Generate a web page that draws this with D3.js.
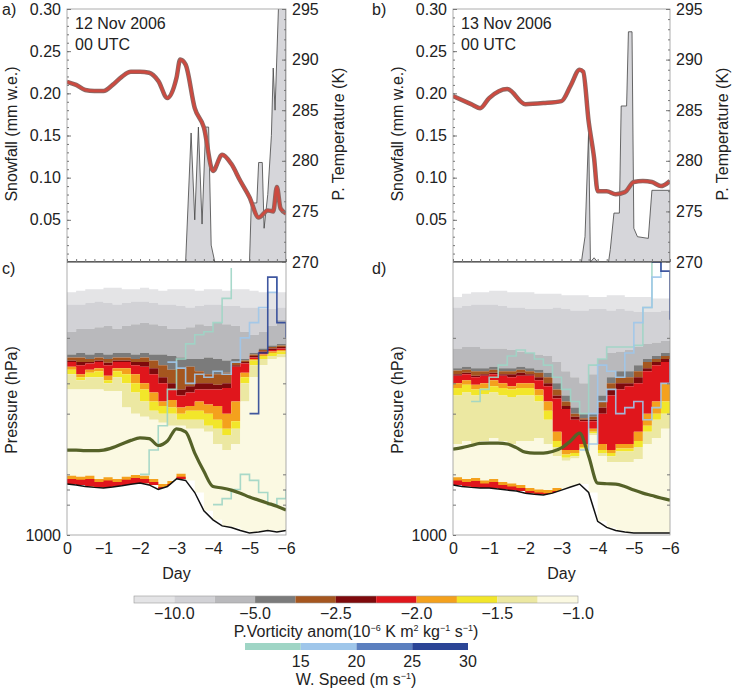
<!DOCTYPE html>
<html><head><meta charset="utf-8">
<script src="https://cdn.jsdelivr.net/npm/d3@7"></script>
<style>body{margin:0;background:#fff}text{font-family:"Liberation Sans",Arial,sans-serif}</style>
</head><body><svg id="fig" width="736" height="689"></svg>
<script>
// time axis for the PV cross-sections (0 to -6 days, 6-hourly)
const days = d3.range(25).map(i => -i * 0.25);

// ---- panel a / c : 12 Nov 2006 ----
const ptDaysA = [0,-0.25,-0.5,-0.75,-1,-1.25,-1.5,-1.75,-2,-2.25,-2.5,-2.75,-3,-3.1,-3.25,-3.5,-3.75,-4,-4.25,-4.5,-4.75,-5,-5.25,-5.5,-5.65,-5.75,-5.85,-6];
const ptA = [287.8,287.5,287.0,286.9,286.9,287.5,288.3,288.8,288.8,288.7,287.9,286.2,288.2,290.0,289.5,285.2,283.3,279.0,280.6,279.7,278.0,276.4,274.4,275.1,275.0,277.4,275.3,274.8];
const snowDaysA = [0,-3.25,-3.4,-3.5,-3.6,-3.7,-3.8,-3.88,-3.95,-4.05,-5.0,-5.05,-5.2,-5.25,-5.35,-5.4,-5.5,-5.6,-5.65,-5.7,-5.8,-6];
const snowA = [0,0,0.153,0.05,0.16,0.045,0.16,0.16,0.02,0,0,0.07,0.07,0.118,0.118,0.04,0.08,0.15,0.23,0.18,0.31,0.31];

const pvA = [
  [200,195,190,190,185,185,190,190,185,190,195,190,190,190,195,190,190,195,190,190,195,200,200,200,200],
  [240,240,235,230,235,240,235,230,230,235,240,240,245,250,245,240,240,245,245,250,250,255,255,250,250],
  [330,320,320,315,310,320,310,305,300,305,310,320,320,315,305,310,300,305,310,330,340,330,310,290,285],
  [405,400,405,400,405,400,400,405,400,405,405,410,415,420,420,415,420,425,420,420,400,385,375,370,360],
  [415,415,420,415,420,415,415,420,415,425,440,455,450,445,460,470,470,465,430,425,405,390,380,375,365],
  [425,430,430,425,432,425,425,430,430,450,480,500,520,510,500,500,505,500,440,430,410,395,385,380,370],
  [430,440,435,430,440,430,430,440,445,470,500,520,540,530,520,520,520,515,445,435,415,400,390,385,375],
  [445,470,455,450,475,450,450,470,500,530,560,555,580,575,560,570,575,600,560,465,420,405,395,390,380],
  [455,480,465,460,490,460,470,500,520,560,575,580,600,590,590,600,620,650,625,480,425,410,400,395,385],
  [470,490,480,480,500,480,500,530,560,590,600,600,620,620,620,640,650,670,650,500,440,420,410,405,395],
  [520,520,520,520,525,525,580,600,610,620,630,640,640,650,650,660,700,720,700,560,480,440,420,415,405]
];
const surfA = [832,835,840,843,845,842,838,833,829,835,850,840,815,820,860,920,950,970,975,985,993,990,985,990,985];
const nearSfcA = [815,818,815,825,820,825,818,812,815,825,842,832,808,815,null,null,null,null,null,null,null,null,null,null,null];
const greenA = [720,720,722,722,720,712,700,688,680,682,705,690,650,660,730,790,840,845,852,862,875,885,895,905,918];
const windA = [
  {c:0, v:[null,null,null,null,null,null,null,null,800,720,640,520,420,370,340,330,300,220,120,null,null,null,null,null,null]},
  {c:1, v:[null,null,null,null,null,null,null,null,null,null,null,430,450,500,470,480,460,470,430,350,300,250,200,150,null]},
  {c:0, v:[null,null,null,null,null,null,null,null,null,null,null,null,null,null,null,null,900,880,850,800,820,860,900,880,850]},
  {c:3, v:[null,null,null,null,null,null,null,null,null,null,null,null,null,null,null,null,null,null,null,null,600,400,150,300,350]}
];

// ---- panel b / d : 13 Nov 2006 ----
const ptDaysB = [0,-0.5,-0.75,-1,-1.5,-2,-2.5,-3,-3.25,-3.5,-3.6,-3.75,-3.9,-4,-4.25,-4.5,-4.75,-5,-5.25,-5.5,-5.75,-6];
const ptB = [286.4,285.6,285.2,286.2,287.1,285.6,285.7,285.9,287.4,289.0,288.8,283.9,280.3,277.0,277.0,276.7,276.9,277.9,278.0,277.9,277.5,278.0];
const snowDaysB = [0,-3.55,-3.65,-3.75,-3.8,-3.9,-4.0,-4.3,-4.35,-4.45,-4.6,-4.65,-4.8,-4.85,-4.95,-5.0,-5.1,-5.4,-5.5,-6];
const snowB = [0,0,0.03,0.155,0,0.005,0,0,0.015,0.058,0.058,0.185,0.185,0.273,0.273,0.04,0.03,0.028,0.085,0.085];

const pvB = [
  [215,205,200,200,195,195,200,200,200,205,205,205,210,210,210,215,215,210,210,215,215,215,220,220,220],
  [250,245,240,240,240,245,250,250,255,255,255,250,255,260,260,255,255,260,255,260,265,265,265,260,260],
  [385,380,380,385,385,385,390,395,400,405,410,430,460,480,500,470,420,400,395,390,380,370,365,360,355],
  [450,445,450,450,445,450,450,445,450,455,465,500,540,580,600,600,540,480,460,460,440,420,410,400,395],
  [458,455,460,460,455,460,460,455,460,465,480,520,560,600,615,610,560,500,480,480,460,430,420,410,405],
  [470,465,475,470,465,470,470,465,470,480,500,540,575,610,620,620,580,520,500,500,480,450,430,420,415],
  [475,470,480,475,470,475,480,475,475,490,510,550,585,620,625,625,600,540,520,510,500,460,440,430,420],
  [500,490,505,500,490,500,510,500,500,520,560,660,720,720,700,650,700,720,700,700,660,600,560,500,560],
  [515,505,520,515,510,515,520,515,515,540,590,690,735,730,710,660,720,730,715,715,690,640,600,560,620],
  [540,530,540,535,530,540,545,540,540,560,620,710,745,740,715,665,730,740,725,725,710,660,620,600,650],
  [700,690,700,690,680,690,700,690,690,680,700,740,755,748,720,670,740,760,760,760,750,700,680,650,680]
];
const surfB = [835,840,843,845,845,848,852,855,862,866,868,862,852,842,832,860,955,975,985,990,993,993,993,993,993];
const nearSfcB = [820,825,822,830,825,835,840,845,855,860,862,855,845,null,null,null,null,null,null,null,null,null,null,null,null];
const greenB = [717,712,705,698,697,697,700,712,727,730,730,725,713,690,664,740,829,831,832,840,852,862,870,878,885];
const windB = [
  {c:0, v:[null,null,560,520,480,440,410,390,400,420,440,480,520,560,600,440,420,380,380,380,375,250,100,null,null]},
  {c:1, v:[null,null,null,null,null,null,null,null,null,null,null,null,null,null,720,600,440,460,480,400,300,250,150,100,null]},
  {c:1, v:[null,null,null,null,null,null,null,null,null,null,null,null,null,null,null,700,560,520,600,580,560,620,580,500,420]},
  {c:3, v:[null,null,null,null,null,null,null,null,null,null,null,null,null,null,null,null,null,null,null,null,null,null,100,130,290]}
];

// ---- colour bars ----
const pvColors = ["#e4e4e6","#d2d2d6","#b9b9bc","#7b7b7b","#a5561f","#7e0a0c","#e0161c","#f4a11d","#f2e62a","#ece8a2","#fbf9e2"];
const pvTicks = [{i:1,t:"\u221210.0"},{i:3,t:"\u22125.0"},{i:5,t:"\u22122.5"},{i:7,t:"\u22122.0"},{i:9,t:"\u22121.5"},{i:11,t:"\u22121.0"}];
const windColors = ["#9fd5c5","#9fc6ea","#5b7fbf","#2b4596"];
const windTicks = ["15","20","25","30"];

const svg = d3.select("#fig");
const FS = 16;
const TOP = 9;

function drawPanel(o) {
  const x = d3.scaleLinear().domain([0, -6]).range([o.x0, o.x1]);
  const ys = d3.scaleLinear().domain([0, 0.30]).range([262, TOP]);
  const yt = d3.scaleLinear().domain([270, 295]).range([262, TOP]);
  const yp = d3.scaleLinear().domain([100, 1000]).range([262, 535]);
  const clipId = "clip" + o.tag;
  svg.append("clipPath").attr("id", clipId).append("rect")
    .attr("x", o.x0).attr("y", 262).attr("width", o.x1 - o.x0).attr("height", 273);
  const clipT = "clipT" + o.tag;
  svg.append("clipPath").attr("id", clipT).append("rect")
    .attr("x", o.x0).attr("y", TOP).attr("width", o.x1 - o.x0).attr("height", 262 - TOP);

  // --- top: snowfall + potential temperature
  const top = svg.append("g").attr("clip-path", `url(#${clipT})`);
  top.append("path").datum(d3.zip(o.snowDays, o.snow))
    .attr("d", d3.area().x(d => x(d[0])).y0(262).y1(d => ys(d[1])))
    .attr("fill", "#d6d6da").attr("stroke", "#444").attr("stroke-width", 0.8);
  const ptLine = d3.line().x(d => x(d[0])).y(d => yt(d[1])).curve(d3.curveMonotoneX);
  top.append("path").datum(d3.zip(o.ptDays, o.pt)).attr("d", ptLine)
    .attr("fill", "none").attr("stroke", "#8a6a66").attr("stroke-width", 4.5);
  top.append("path").datum(d3.zip(o.ptDays, o.pt)).attr("d", ptLine)
    .attr("fill", "none").attr("stroke", "#cc4a40").attr("stroke-width", 2.8);

  // --- bottom: PV anomaly bands
  const bot = svg.append("g").attr("clip-path", `url(#${clipId})`);
  const bounds = o.pv.concat([o.surf]);
  for (let k = 0; k < o.pv.length; k++) {
    const pts = days.map((d, i) => [d, bounds[k][i], bounds[k + 1][i]]);
    bot.append("path").datum(pts)
      .attr("d", d3.area().x(d => x(d[0])).y0(d => yp(d[1])).y1(d => yp(d[2])).curve(d3.curveStepAfter))
      .attr("fill", pvColors[k]);
  }
  // near-surface PV strip
  const ns = days.map((d, i) => [d, o.nearSfc[i], o.surf[i]]);
  bot.append("path").datum(ns)
    .attr("d", d3.area().defined(d => d[1] != null).x(d => x(d[0]))
      .y0(d => yp(d[1] - 10)).y1(d => yp(d[2])).curve(d3.curveStepAfter))
    .attr("fill", pvColors[7]);
  bot.append("path").datum(ns)
    .attr("d", d3.area().defined(d => d[1] != null).x(d => x(d[0]))
      .y0(d => yp(d[1])).y1(d => yp(d[2])).curve(d3.curveStepAfter))
    .attr("fill", pvColors[6]);
  // below ground
  const sfcLine = d3.line().x(d => x(d[0])).y(d => yp(d[1]));
  bot.append("path").datum(days.map((d, i) => [d, o.surf[i]]))
    .attr("d", d3.area().x(d => x(d[0])).y0(535).y1(d => yp(d[1])))
    .attr("fill", "#fff");
  // wind-speed trajectories
  o.wind.forEach(w => {
    bot.append("path").datum(days.map((d, i) => [d, w.v[i]]))
      .attr("d", d3.line().defined(d => d[1] != null).x(d => x(d[0])).y(d => yp(d[1])).curve(d3.curveStepAfter))
      .attr("fill", "none").attr("stroke", windColors[w.c]).attr("stroke-width", 1.6).attr("opacity", 0.9);
  });
  bot.append("path").datum(days.map((d, i) => [d, o.green[i]]))
    .attr("d", d3.line().x(d => x(d[0])).y(d => yp(d[1])).curve(d3.curveMonotoneX))
    .attr("fill", "none").attr("stroke", "#556228").attr("stroke-width", 3.2);
  bot.append("path").datum(days.map((d, i) => [d, o.surf[i]])).attr("d", sfcLine)
    .attr("fill", "none").attr("stroke", "#111").attr("stroke-width", 1.5);

  // frames
  svg.append("rect").attr("x", o.x0).attr("y", TOP).attr("width", o.x1 - o.x0).attr("height", 535 - TOP)
    .attr("fill", "none").attr("stroke", "#999").attr("stroke-width", 0.8);
  svg.append("line").attr("x1", o.x0).attr("x2", o.x1).attr("y1", 262).attr("y2", 262)
    .attr("stroke", "#333").attr("stroke-width", 1);

  // axes
  const ax = (g, gen) => { g.call(gen); g.select(".domain").remove();
    g.selectAll("text").attr("font-size", FS).attr("fill", "#222").attr("font-family", "Liberation Sans, Arial");
    g.selectAll("line").attr("stroke", "#777"); };
  ax(svg.append("g").attr("transform", `translate(${o.x0},0)`),
     d3.axisLeft(ys).tickValues([0.05,0.10,0.15,0.20,0.25,0.30]).tickFormat(d3.format(".2f")).tickSize(-4).tickPadding(6));
  ax(svg.append("g").attr("transform", `translate(${o.x0},0)`),
     d3.axisLeft(ys).tickValues(d3.range(0.01, 0.30, 0.01)).tickFormat("").tickSize(-2));
  ax(svg.append("g").attr("transform", `translate(${o.x1},0)`),
     d3.axisRight(yt).tickValues([270,275,280,285,290,295]).tickSize(-4).tickPadding(6));
  ax(svg.append("g").attr("transform", `translate(${o.x1},0)`),
     d3.axisRight(yt).tickValues(d3.range(271, 295, 1)).tickFormat("").tickSize(-2));
  ax(svg.append("g").attr("transform", `translate(0,262)`),
     d3.axisBottom(x).tickValues(d3.range(0, -6.01, -0.25)).tickFormat("").tickSize(-3));
  ax(svg.append("g").attr("transform", `translate(${o.x0},0)`),
     d3.axisLeft(yp).tickValues([1000]).tickFormat(d3.format("d")).tickSize(-3).tickPadding(6));
  ax(svg.append("g").attr("transform", `translate(${o.x0},0)`),
     d3.axisLeft(yp).tickValues([350,500,600,800,850,900]).tickFormat("").tickSize(-3));
  ax(svg.append("g").attr("transform", `translate(${o.x1},0)`),
     d3.axisRight(yp).tickValues([350,500,600,800,850,900]).tickFormat("").tickSize(-3));
  ax(svg.append("g").attr("transform", `translate(0,535)`),
     d3.axisBottom(x).ticks(7).tickFormat(d => d === 0 ? "0" : "\u2212" + Math.abs(d)).tickSize(0).tickPadding(8));

  // labels
  const t = (xx, yy, s, a, rot) => {
    const e = svg.append("text").attr("x", xx).attr("y", yy).attr("font-size", FS).attr("fill", "#222")
      .attr("text-anchor", a || "start").text(s);
    if (rot) e.attr("transform", `rotate(-90,${xx},${yy})`);
  };
  t(o.x0 + 8, 29, o.date); t(o.x0 + 8, 50, "00 UTC");
  t(o.lx, 15, o.l1); t(o.lx, 274, o.l2);
  t(o.x0 - 50, 134, "Snowfall (mm w.e.)", "middle", true);
  t(o.x1 + 58, 134, "P. Temperature (K)", "middle", true);
  t(o.x0 - 50, 400, "Pressure (hPa)", "middle", true);
  t((o.x0 + o.x1) / 2, 579, "Day", "middle");
}

drawPanel({tag:"a", x0:67, x1:286, lx:2, l1:"a)", l2:"c)", date:"12 Nov 2006",
  ptDays:ptDaysA, pt:ptA, snowDays:snowDaysA, snow:snowA, pv:pvA, surf:surfA, nearSfc:nearSfcA, green:greenA, wind:windA});
drawPanel({tag:"b", x0:453, x1:670, lx:372, l1:"b)", l2:"d)", date:"13 Nov 2006",
  ptDays:ptDaysB, pt:ptB, snowDays:snowDaysB, snow:snowB, pv:pvB, surf:surfB, nearSfc:nearSfcB, green:greenB, wind:windB});

// colour bars
const cb = d3.scaleLinear().domain([0, pvColors.length]).range([134, 578]);
svg.selectAll(".pvc").data(pvColors).join("rect")
  .attr("x", (d, i) => cb(i)).attr("y", 596).attr("width", cb(1) - cb(0)).attr("height", 7).attr("fill", d => d);
svg.append("rect").attr("x", 134).attr("y", 596).attr("width", 444).attr("height", 7).attr("fill", "none").attr("stroke", "#999").attr("stroke-width", 0.6);
svg.selectAll(".pvt").data(pvTicks).join("text")
  .attr("x", d => cb(d.i)).attr("y", 619).attr("text-anchor", "middle").attr("font-size", FS).attr("fill", "#222").text(d => d.t);
const pvTitle = svg.append("text").attr("x", 356).attr("y", 637).attr("text-anchor", "middle").attr("font-size", FS).attr("fill", "#222");
pvTitle.append("tspan").text("P.Vorticity anom(10");
pvTitle.append("tspan").attr("font-size", 9).attr("dy", -6).text("\u22126");
pvTitle.append("tspan").attr("dy", 6).text(" K m");
pvTitle.append("tspan").attr("font-size", 9).attr("dy", -6).text("2");
pvTitle.append("tspan").attr("dy", 6).text(" kg");
pvTitle.append("tspan").attr("font-size", 9).attr("dy", -6).text("\u22121");
pvTitle.append("tspan").attr("dy", 6).text(" s");
pvTitle.append("tspan").attr("font-size", 9).attr("dy", -6).text("\u22121");
pvTitle.append("tspan").attr("dy", 6).text(")");

const wb = d3.scaleLinear().domain([0, windColors.length]).range([245, 468]);
svg.selectAll(".wc").data(windColors).join("rect")
  .attr("x", (d, i) => wb(i)).attr("y", 643).attr("width", wb(1) - wb(0)).attr("height", 7).attr("fill", d => d);
svg.selectAll(".wt").data(windTicks).join("text")
  .attr("x", (d, i) => wb(i + 1)).attr("y", 667).attr("text-anchor", "middle").attr("font-size", FS).attr("fill", "#222").text(d => d);
const wTitle = svg.append("text").attr("x", 356).attr("y", 685).attr("text-anchor", "middle").attr("font-size", FS).attr("fill", "#222");
wTitle.append("tspan").text("W. Speed (m s");
wTitle.append("tspan").attr("font-size", 9).attr("dy", -6).text("\u22121");
wTitle.append("tspan").attr("dy", 6).text(")");
</script></body></html>
